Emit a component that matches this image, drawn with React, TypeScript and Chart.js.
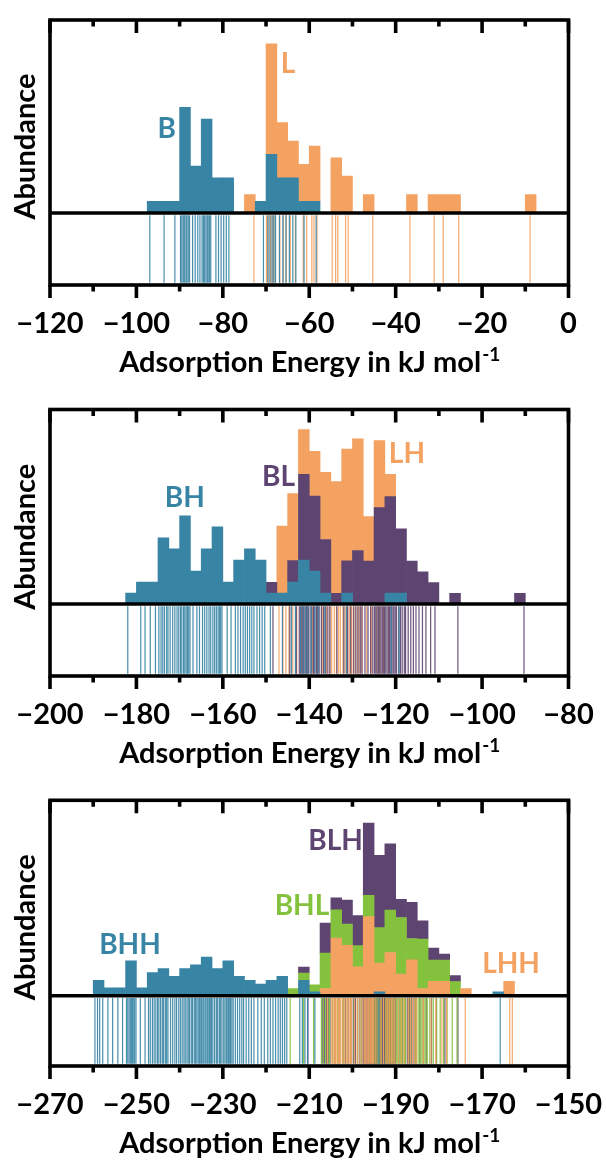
import React, { useEffect, useRef } from "react";
import { Chart, registerables } from "chart.js";

Chart.register(...registerables);

const FONT = "Lato, 'Open Sans', 'DejaVu Sans', sans-serif";
const BIN_WIDTH = 2.5;

const BLUE = "#3784A5";
const ORANGE = "#F4A261";
const PURPLE = "#5E4470";
const GREEN = "#84C13C";

// ---------- Panel 1 ----------
const P1_X_TICKS = [-120, -100, -80, -60, -40, -20, 0];
const P1_Y_RANGE = [-0.0558, 0.1496];
const B_BINS = [-97.5, -95, -92.5, -90, -87.5, -85, -82.5, -80, -72.5, -70, -67.5, -65, -62.5, -60];
const B_COUNTS = [1, 1, 1, 9, 4, 8, 3, 3, 1, 5, 3, 3, 1, 1];
const B_ENERGIES = [-96.9, -93.6, -91.1, -89.8, -89.5, -89.2, -89.0, -88.8, -88.5, -88.3, -88.0, -87.7, -87.0, -86.4, -85.8, -85.3, -84.8, -84.5, -84.2, -83.9, -83.6, -83.4, -83.1, -82.8, -81.6, -81.0, -80.4, -79.8, -79.2, -78.6, -70.6, -69.6, -69.1, -68.6, -68.2, -67.8, -66.9, -66.1, -65.4, -64.6, -63.8, -63.1, -61.2, -58.4];
const L_BINS = [-75, -70, -67.5, -65, -62.5, -60, -55, -52.5, -47.5, -37.5, -32.5, -30, -27.5, -10];
const L_COUNTS = [1, 6, 3, 2, 2, 3, 3, 2, 1, 1, 1, 1, 1, 1];
const L_ENERGIES = [-72.8, -69.9, -69.5, -69.0, -68.6, -68.3, -67.9, -66.8, -66.0, -65.3, -64.4, -63.2, -61.4, -60.6, -59.4, -58.9, -58.2, -54.7, -53.9, -53.4, -51.6, -51.0, -45.3, -36.7, -31.1, -29.0, -25.4, -8.9];
const P1_LABELS = [
  { text: "B", x: -93, y: 0.066, color: BLUE },
  { text: "L", x: -64.9, y: 0.116, color: ORANGE },
];

// ---------- Panel 2 ----------
const P2_X_TICKS = [-200, -180, -160, -140, -120, -100, -80];
const P2_Y_RANGE = [-0.0379, 0.1024];
const BH_BINS = [-182.5, -180, -177.5, -175, -172.5, -170, -167.5, -165, -162.5, -160, -157.5, -155, -152.5, -150, -147.5, -145, -142.5, -140, -137.5, -132.5, -122.5, -120];
const BH_COUNTS = [1, 2, 2, 6, 5, 8, 3, 5, 7, 2, 4, 5, 4, 1, 1, 2, 4, 3, 1, 1, 1, 1];
const BH_ENERGIES = [-182.0, -179.0, -178.0, -176.8, -175.6, -174.8, -174.3, -173.9, -173.5, -173.0, -172.7, -172.2, -171.6, -171.1, -170.6, -170.2, -169.8, -169.5, -169.1, -168.8, -168.5, -168.2, -167.9, -167.6, -166.9, -166.0, -165.4, -164.7, -164.2, -163.7, -163.2, -162.8, -162.3, -161.9, -161.5, -161.1, -160.8, -160.5, -160.2, -159.0, -158.1, -157.1, -156.5, -155.9, -155.3, -154.8, -154.3, -153.8, -153.3, -152.8, -152.1, -151.5, -150.9, -150.3, -149.0, -146.2, -144.1, -143.2, -142.0, -141.4, -140.8, -140.3, -139.5, -138.7, -137.9, -136.4, -131.4, -121.0, -119.2];
const BL_BINS = [-150, -145, -142.5, -140, -137.5, -135, -132.5, -130, -127.5, -125, -122.5, -120, -117.5, -115, -112.5, -107.5, -92.5];
const BL_COUNTS = [1, 2, 8, 7, 5, 1, 3, 5, 4, 9, 9, 6, 4, 3, 2, 1, 1];
const BL_ENERGIES = [-148.4, -144.5, -143.0, -142.3, -141.9, -141.6, -141.3, -141.0, -140.7, -140.5, -140.2, -139.8, -139.4, -139.0, -138.7, -138.3, -138.0, -137.7, -137.2, -136.7, -136.2, -135.7, -135.2, -133.6, -132.0, -131.1, -130.4, -129.7, -129.2, -128.7, -128.2, -127.8, -127.1, -126.4, -125.8, -125.3, -124.9, -124.6, -124.3, -124.0, -123.7, -123.4, -123.1, -122.9, -122.6, -122.3, -122.0, -121.7, -121.4, -121.1, -120.9, -120.6, -120.4, -120.1, -119.8, -119.3, -118.9, -118.5, -118.0, -117.7, -117.1, -116.5, -115.9, -115.3, -114.6, -113.8, -113.0, -111.9, -110.9, -105.6, -90.3];
const LH_BINS = [-147.5, -145, -142.5, -140, -137.5, -135, -132.5, -130, -127.5, -125, -122.5];
const LH_COUNTS = [3, 3, 2, 2, 3, 5, 5, 5, 2, 3, 1];
const LH_ENERGIES = [-147.0, -146.1, -145.4, -144.7, -143.8, -142.9, -141.8, -140.6, -139.2, -138.1, -137.0, -136.0, -135.3, -134.8, -134.2, -133.7, -133.2, -132.8, -132.2, -131.7, -131.2, -130.7, -130.2, -129.8, -129.3, -128.8, -128.3, -127.8, -126.7, -125.6, -124.4, -123.6, -122.8, -121.6];
const P2_LABELS = [
  { text: "BH", x: -168.8, y: 0.0563, color: BLUE },
  { text: "BL", x: -147.1, y: 0.0674, color: PURPLE },
  { text: "LH", x: -117.4, y: 0.0795, color: ORANGE },
];

// ---------- Panel 3 ----------
const P3_X_TICKS = [-270, -250, -230, -210, -190, -170, -150];
const P3_Y_RANGE = [-0.0686, 0.1906];
const BHH_BINS = [-260, -257.5, -255, -252.5, -250, -247.5, -245, -242.5, -240, -237.5, -235, -232.5, -230, -227.5, -225, -222.5, -220, -217.5, -212.5, -210, -195, -167.5];
const BHH_COUNTS = [4, 2, 2, 9, 2, 6, 7, 5, 7, 8, 10, 7, 9, 5, 4, 3, 4, 5, 4, 1, 1, 1];
const BHH_ENERGIES = [-259.6, -259.0, -258.5, -257.8, -256.6, -255.5, -254.3, -253.2, -252.3, -252.0, -251.7, -251.4, -251.1, -250.9, -250.6, -250.4, -250.1, -249.1, -248.0, -247.2, -246.8, -246.3, -245.9, -245.5, -245.1, -244.8, -244.4, -244.0, -243.7, -243.3, -243.0, -242.7, -242.1, -241.6, -241.1, -240.7, -240.2, -239.8, -239.4, -239.0, -238.7, -238.3, -238.0, -237.7, -237.3, -237.0, -236.6, -236.3, -236.0, -235.7, -235.4, -235.1, -234.9, -234.6, -234.4, -234.1, -233.9, -233.6, -233.4, -233.1, -232.9, -232.6, -232.3, -231.9, -231.5, -231.2, -230.8, -230.5, -230.2, -229.8, -229.5, -229.2, -229.0, -228.7, -228.4, -228.2, -227.9, -227.6, -227.1, -226.6, -226.1, -225.6, -225.2, -224.6, -224.0, -223.4, -222.8, -221.9, -221.1, -220.4, -219.6, -219.0, -218.4, -217.8, -217.2, -216.7, -216.2, -215.7, -215.2, -212.2, -211.6, -211.0, -210.4, -208.7, -193.9, -165.8];
const LHH_BINS = [-207.5, -205, -202.5, -200, -197.5, -195, -192.5, -190, -187.5, -185, -182.5, -180, -175, -165];
const LHH_COUNTS = [1, 8, 7, 4, 11, 4, 6, 3, 5, 1, 2, 2, 1, 2];
const LHH_ENERGIES = [-205.8, -204.8, -204.5, -204.2, -203.9, -203.6, -203.3, -203.0, -202.7, -202.3, -201.9, -201.5, -201.1, -200.8, -200.5, -200.2, -199.5, -198.9, -198.3, -197.8, -197.3, -197.1, -196.9, -196.6, -196.4, -196.2, -195.9, -195.7, -195.5, -195.3, -195.1, -194.6, -194.0, -193.4, -192.8, -192.2, -191.8, -191.4, -191.0, -190.6, -190.2, -189.4, -188.7, -188.0, -187.1, -186.6, -186.1, -185.6, -185.2, -183.6, -181.8, -180.7, -179.3, -178.2, -173.9, -163.6, -163.0];
const BHL_BINS = [-215, -212.5, -210, -207.5, -205, -202.5, -200, -197.5, -195, -192.5, -190, -187.5, -185, -182.5, -180, -177.5];
const BHL_COUNTS = [1, 1, 1, 5, 4, 3, 3, 3, 5, 6, 8, 3, 7, 3, 3, 2];
const BHL_ENERGIES = [-214.4, -211.3, -209.0, -207.2, -206.7, -206.2, -205.7, -205.3, -204.6, -204.0, -203.4, -202.9, -202.0, -201.2, -200.4, -199.6, -198.8, -198.0, -197.0, -196.2, -195.4, -194.8, -194.3, -193.8, -193.3, -192.8, -192.3, -191.9, -191.5, -191.1, -190.7, -190.3, -189.8, -189.5, -189.2, -188.9, -188.6, -188.3, -188.0, -187.7, -187.0, -186.2, -185.4, -184.8, -184.4, -184.1, -183.7, -183.4, -183.0, -182.7, -182.1, -181.3, -180.5, -179.7, -178.9, -178.1, -176.9, -175.8];
const BLH_BINS = [-212.5, -207.5, -205, -202.5, -200, -197.5, -195, -192.5, -190, -187.5, -185, -182.5, -180, -177.5];
const BLH_COUNTS = [1, 5, 2, 4, 5, 12, 12, 11, 3, 6, 3, 2, 1, 1];
const BLH_ENERGIES = [-210.3, -207.0, -206.5, -206.0, -205.6, -205.2, -204.1, -203.1, -202.2, -201.6, -201.0, -200.4, -199.8, -199.3, -198.8, -198.3, -197.8, -197.4, -197.2, -197.0, -196.8, -196.5, -196.3, -196.1, -195.9, -195.7, -195.5, -195.3, -195.1, -194.9, -194.7, -194.5, -194.3, -194.1, -193.8, -193.6, -193.4, -193.2, -193.0, -192.8, -192.6, -192.4, -192.1, -191.9, -191.7, -191.4, -191.2, -191.0, -190.8, -190.5, -190.3, -190.1, -189.3, -188.5, -187.8, -187.3, -186.8, -186.4, -186.0, -185.6, -185.2, -184.4, -183.6, -182.9, -181.7, -180.6, -178.6, -175.6];
const P3_LABELS = [
  { text: "BHH", x: -251.5, y: 0.0504, color: BLUE },
  { text: "BHL", x: -211.7, y: 0.0885, color: GREEN },
  { text: "BLH", x: -203.9, y: 0.1514, color: PURPLE },
  { text: "LHH", x: -163.3, y: 0.0314, color: ORANGE },
];

const X_TITLE = "Adsorption Energy in kJ mol";
const X_TITLE_SUP = "-1";
const Y_TITLE = "Abundance";

type Series = { label: string; color: string; bins: number[]; counts: number[]; energies: number[] };
type Tag = { text: string; x: number; y: number; color: string };
type PanelSpec = {
  top: number; height: number; areaTop: number; areaBottom: number;
  xTicks: number[]; yRange: number[]; series: Series[]; tags: Tag[];
};

const PANELS: PanelSpec[] = [
  {
    top: 0, height: 390, areaTop: 20, areaBottom: 285,
    xTicks: P1_X_TICKS, yRange: P1_Y_RANGE, tags: P1_LABELS,
    series: [
      { label: "B", color: BLUE, bins: B_BINS, counts: B_COUNTS, energies: B_ENERGIES },
      { label: "L", color: ORANGE, bins: L_BINS, counts: L_COUNTS, energies: L_ENERGIES },
    ],
  },
  {
    top: 390, height: 390, areaTop: 19.5, areaBottom: 286,
    xTicks: P2_X_TICKS, yRange: P2_Y_RANGE, tags: P2_LABELS,
    series: [
      { label: "BH", color: BLUE, bins: BH_BINS, counts: BH_COUNTS, energies: BH_ENERGIES },
      { label: "BL", color: PURPLE, bins: BL_BINS, counts: BL_COUNTS, energies: BL_ENERGIES },
      { label: "LH", color: ORANGE, bins: LH_BINS, counts: LH_COUNTS, energies: LH_ENERGIES },
    ],
  },
  {
    top: 780, height: 383, areaTop: 20.3, areaBottom: 286,
    xTicks: P3_X_TICKS, yRange: P3_Y_RANGE, tags: P3_LABELS,
    series: [
      { label: "BHH", color: BLUE, bins: BHH_BINS, counts: BHH_COUNTS, energies: BHH_ENERGIES },
      { label: "LHH", color: ORANGE, bins: LHH_BINS, counts: LHH_COUNTS, energies: LHH_ENERGIES },
      { label: "BHL", color: GREEN, bins: BHL_BINS, counts: BHL_COUNTS, energies: BHL_ENERGIES },
      { label: "BLH", color: PURPLE, bins: BLH_BINS, counts: BLH_COUNTS, energies: BLH_ENERGIES },
    ],
  },
];

function withAlpha(hex: string, a: number) {
  const n = parseInt(hex.slice(1), 16);
  return `rgba(${(n >> 16) & 255},${(n >> 8) & 255},${n & 255},${a})`;
}

function fmtTick(v: number) {
  return v < 0 ? "\u2212" + Math.abs(v) : String(v);
}

function buildConfig(p: PanelSpec): any {
  const histSets = p.series.map((s) => {
    const total = s.counts.reduce((a, b) => a + b, 0);
    return {
      type: "bar",
      label: s.label,
      stack: "hist",
      yAxisID: "y",
      data: s.bins.map((b, k) => ({ x: b + BIN_WIDTH / 2, y: s.counts[k] / (total * BIN_WIDTH) })),
      backgroundColor: s.color,
      borderWidth: 0,
      barPercentage: 1,
      categoryPercentage: 1,
    };
  });
  const rugSets = p.series.map((s) => ({
    type: "scatter",
    label: s.label + " values",
    yAxisID: "yr",
    data: s.energies.map((e) => ({ x: e, y: p.yRange[0] / 2 })),
    pointStyle: "line",
    rotation: 90,
    borderColor: withAlpha(s.color, 0.92),
    backgroundColor: "rgba(0,0,0,0)",
    borderWidth: 1.2,
    pointRadius: (ctx: any) => {
      const ys = ctx.chart.scales.yr;
      if (!ys) return 30;
      return (ys.getPixelForValue(p.yRange[0]) - ys.getPixelForValue(0)) / 2 - 2.3;
    },
    pointHoverRadius: 0,
  }));

  const decor = {
    id: "decor",
    afterDatasetsDraw(chart: any) {
      const { ctx, chartArea: a, scales } = chart;
      const xs = scales.x;
      const ys = scales.y;
      ctx.save();
      ctx.strokeStyle = "#000";
      ctx.lineCap = "butt";
      ctx.lineWidth = 3.6;
      // baseline between histogram and values
      const y0 = ys.getPixelForValue(0);
      ctx.beginPath();
      ctx.moveTo(a.left, y0);
      ctx.lineTo(a.right, y0);
      ctx.stroke();
      // ticks
      const majors = p.xTicks;
      const minors: number[] = [];
      for (let i = 0; i < majors.length - 1; i++) minors.push((majors[i] + majors[i + 1]) / 2);
      const drawTick = (v: number, len: number) => {
        const px = xs.getPixelForValue(v);
        ctx.beginPath();
        ctx.moveTo(px, a.bottom);
        ctx.lineTo(px, a.bottom + len);
        ctx.moveTo(px, a.top);
        ctx.lineTo(px, a.top + len);
        ctx.stroke();
      };
      majors.forEach((v) => drawTick(v, 13));
      minors.forEach((v) => drawTick(v, 6.5));
      // frame
      ctx.lineJoin = "miter";
      ctx.strokeRect(a.left, a.top, a.right - a.left, a.bottom - a.top);

      // x title with superscript
      ctx.fillStyle = "#000";
      ctx.textBaseline = "alphabetic";
      ctx.textAlign = "left";
      const mainFont = `bold 29px ${FONT}`;
      const supFont = `bold 19px ${FONT}`;
      ctx.font = mainFont;
      const wMain = ctx.measureText(X_TITLE).width;
      ctx.font = supFont;
      const wSup = ctx.measureText(X_TITLE_SUP).width;
      const cx = (a.left + a.right) / 2;
      const startX = cx - (wMain + wSup) / 2;
      const baseY = a.bottom + 87;
      ctx.font = mainFont;
      ctx.fillText(X_TITLE, startX, baseY);
      ctx.font = supFont;
      ctx.fillText(X_TITLE_SUP, startX + wMain + 1, baseY - 11);

      // y title
      ctx.save();
      ctx.font = `bold 29px ${FONT}`;
      ctx.textAlign = "center";
      ctx.translate(35, (a.top + a.bottom) / 2 - 6);
      ctx.rotate(-Math.PI / 2);
      ctx.fillText(Y_TITLE, 0, 0);
      ctx.restore();

      // series tags
      ctx.font = `bold 28px ${FONT}`;
      ctx.textAlign = "center";
      p.tags.forEach((t) => {
        ctx.fillStyle = t.color;
        ctx.fillText(t.text, xs.getPixelForValue(t.x), ys.getPixelForValue(t.y) + 10);
      });
      ctx.restore();
    },
  };

  return {
    type: "bar",
    data: { datasets: [...histSets, ...rugSets] },
    options: {
      animation: false,
      responsive: false,
      events: [],
      layout: { padding: { left: 50, right: 37.5, top: p.areaTop, bottom: 0 } },
      plugins: { legend: { display: false }, tooltip: { enabled: false } },
      scales: {
        x: {
          type: "linear",
          position: "bottom",
          min: p.xTicks[0],
          max: p.xTicks[p.xTicks.length - 1],
          offset: false,
          stacked: true,
          grid: { display: false, drawTicks: true, tickLength: 21 },
          border: { display: false },
          afterBuildTicks: (scale: any) => {
            scale.ticks = p.xTicks.map((v) => ({ value: v }));
          },
          afterFit: (scale: any) => {
            scale.height = p.height - p.areaBottom;
          },
          ticks: {
            autoSkip: false,
            maxRotation: 0,
            padding: 0,
            color: "#000",
            font: { family: FONT, size: 29, weight: "bold" },
            callback: (v: any) => fmtTick(Number(v)),
          },
        },
        y: {
          type: "linear",
          display: false,
          stacked: true,
          min: p.yRange[0],
          max: p.yRange[1],
        },
        yr: {
          type: "linear",
          display: false,
          stacked: false,
          min: p.yRange[0],
          max: p.yRange[1],
        },
      },
    },
    plugins: [decor],
  };
}

function Panel({ spec }: { spec: PanelSpec }) {
  const ref = useRef<HTMLCanvasElement | null>(null);
  useEffect(() => {
    if (!ref.current) return;
    const chart = new Chart(ref.current, buildConfig(spec));
    return () => chart.destroy();
  }, [spec]);
  return (
    <canvas
      ref={ref}
      width={606}
      height={spec.height}
      style={{ position: "absolute", left: 0, top: spec.top, width: 606, height: spec.height, display: "block" }}
    />
  );
}

export default function App() {
  return (
    <div style={{ position: "absolute", left: 0, top: 0, width: 606, height: 1163, background: "#fff" }}>
      {PANELS.map((p, i) => (
        <Panel key={i} spec={p} />
      ))}
    </div>
  );
}
